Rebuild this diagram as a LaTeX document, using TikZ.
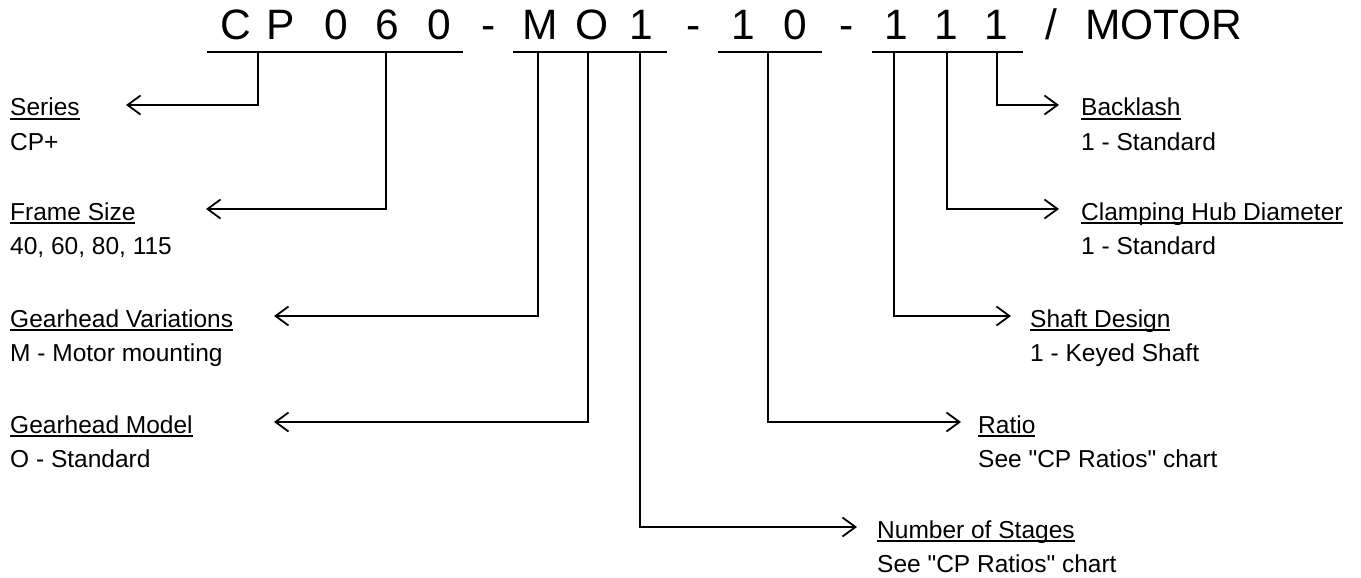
\documentclass[tikz,border=0pt]{standalone}
\usepackage{fontspec}
\setmainfont{Liberation Sans}
\usetikzlibrary{arrows.meta}
\newsavebox\ulbox
\newcommand\myul[1]{\sbox\ulbox{#1}\rlap{\rule[-3.6pt]{\wd\ulbox}{1.4pt}}\usebox\ulbox}
\begin{document}
\begin{tikzpicture}[x=1pt,y=-1pt,
  code/.style={font=\fontsize{42.5}{42}\selectfont, anchor=base, inner sep=0pt},
  title/.style={font=\fontsize{24.5}{26}\selectfont, anchor=base west, inner sep=0pt},
  lead/.style={line width=1.8pt, -{Straight Barb[length=13pt,width=19pt]}},
  bar/.style={line width=1.8pt}]
\useasboundingbox[fill=white] (0,0) rectangle (1361,578);
% code characters
\node[code] (c1) at (236,40) {C};
\node[code] (c2) at (281,40) {P};
\node[code] (c3) at (336,40) {0};
\node[code] (c4) at (387,40) {6};
\node[code] (c5) at (439,40) {0};
\node[code] (d1) at (489,40) {-};
\node[code] (c6) at (540,40) {M};
\node[code] (c7) at (592,40) {O};
\node[code] (c8) at (641,40) {1};
\node[code] (d2) at (694,40) {-};
\node[code] (c9) at (743,40) {1};
\node[code] (c10) at (795,40) {0};
\node[code] (d3) at (847,40) {-};
\node[code] (c11) at (896,40) {1};
\node[code] (c12) at (946,40) {1};
\node[code] (c13) at (996,40) {1};
\node[code] (sl) at (1051,40) {/};
\node[code, anchor=base west] (motor) at (1085,40) {MOTOR};
% underlines
\draw[bar] (207,52) -- (463,52);
\draw[bar] (513,52) -- (667,52);
\draw[bar] (718,52) -- (822,52);
\draw[bar] (872,52) -- (1023,52);
% left labels
\node[title] (series) at (10,116) {\myul{Series}};
\node[title] (seriesv) at (10,150) {CP+};
\node[title] (frame) at (10,220) {\myul{Frame Size}};
\node[title] (framev) at (10,254) {40, 60, 80, 115};
\node[title] (ghv) at (10,327) {\myul{Gearhead Variations}};
\node[title] (ghvv) at (10,361) {M - Motor mounting};
\node[title] (ghm) at (10,433) {\myul{Gearhead Model}};
\node[title] (ghmv) at (10,467) {O - Standard};
% right labels
\node[title] (back) at (1081,116) {\myul{Backlash}};
\node[title] (backv) at (1081,150) {1 - Standard};
\node[title] (clamp) at (1081,220) {\myul{Clamping Hub Diameter}};
\node[title] (clampv) at (1081,254) {1 - Standard};
\node[title] (shaft) at (1030,327) {\myul{Shaft Design}};
\node[title] (shaftv) at (1030,361) {1 - Keyed Shaft};
\node[title] (ratio) at (978,433) {\myul{Ratio}};
\node[title] (ratiov) at (978,467) {See \textquotedbl CP Ratios\textquotedbl{} chart};
\node[title] (stages) at (877,538) {\myul{Number of Stages}};
\node[title] (stagesv) at (877,572) {See \textquotedbl CP Ratios\textquotedbl{} chart};
% connector coordinates
\coordinate (sA) at (258,52);  \coordinate (tA) at (126,105);
\coordinate (sB) at (386,52);  \coordinate (tB) at (206,209);
\coordinate (sC) at (538,52);  \coordinate (tC) at (274,316);
\coordinate (sD) at (588,52);  \coordinate (tD) at (274,422);
\coordinate (sE) at (640,52);  \coordinate (tE) at (857,527);
\coordinate (sF) at (768,52);  \coordinate (tF) at (961,422);
\coordinate (sG) at (894,52);  \coordinate (tG) at (1011,316);
\coordinate (sH) at (947,52);  \coordinate (tH) at (1059,209);
\coordinate (sI) at (997,52);  \coordinate (tI) at (1059,105);
\draw[lead] (sA) |- (tA);
\draw[lead] (sB) |- (tB);
\draw[lead] (sC) |- (tC);
\draw[lead] (sD) |- (tD);
\draw[lead] (sE) |- (tE);
\draw[lead] (sF) |- (tF);
\draw[lead] (sG) |- (tG);
\draw[lead] (sH) |- (tH);
\draw[lead] (sI) |- (tI);
\end{tikzpicture}
\end{document}
